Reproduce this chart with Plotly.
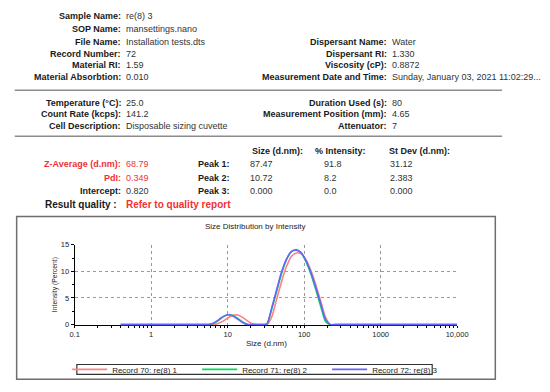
import plotly.graph_objects as go

W, H = 550, 392

# ---------------- data ----------------
sizes = [0.4, 0.4632, 0.5365, 0.6213, 0.7195, 0.8332, 0.9649, 1.117, 1.294, 1.499,
         1.736, 2.01, 2.328, 2.696, 3.122, 3.615, 4.187, 4.849, 5.615, 6.503,
         7.531, 8.721, 10.1, 11.7, 13.54, 15.69, 18.17, 21.04, 24.36, 28.21,
         32.67, 37.84, 43.82, 50.75, 58.77, 68.06, 78.82, 91.28, 105.7, 122.4,
         141.8, 164.2, 190.1, 220.2, 255.0, 295.3, 342.0, 396.1, 458.7, 531.2,
         615.1, 712.4, 825.0, 955.4, 1106, 1281, 1484, 1718, 1990, 2305,
         2669, 3091, 3580, 4145, 4801, 5560, 6439, 7456, 8635, 10000]

record70 = [0, 0, 0, 0, 0, 0, 0, 0, 0, 0,
            0, 0, 0, 0, 0, 0, 0, 0, 0, 0,
            0.2, 0.65, 1.25, 1.75, 1.8, 1.35, 0.7, 0.15, 0, 0,
            0, 1.5, 4.8, 8.1, 10.9, 12.8, 13.45, 13.3, 12.2, 10.2,
            7.5, 4.5, 1.4, 0, 0, 0, 0, 0, 0, 0,
            0, 0, 0, 0, 0, 0, 0, 0, 0, 0,
            0, 0, 0, 0, 0, 0, 0, 0, 0, 0]

record71 = [0, 0, 0, 0, 0, 0, 0, 0, 0, 0,
            0, 0, 0, 0, 0, 0, 0, 0, 0, 0.2,
            0.75, 1.45, 1.85, 1.7, 1.15, 0.5, 0.05, 0, 0, 0,
            0.2, 3.0, 6.3, 9.6, 12.2, 13.7, 14.1, 13.5, 11.8, 9.5,
            6.6, 3.5, 0.6, 0, 0, 0, 0, 0, 0, 0,
            0, 0, 0, 0, 0, 0, 0, 0, 0, 0,
            0, 0, 0, 0, 0, 0, 0, 0, 0, 0]

record72 = [0, 0, 0, 0, 0, 0, 0, 0, 0, 0,
            0, 0, 0, 0, 0, 0, 0, 0, 0, 0.25,
            0.85, 1.5, 1.85, 1.6, 1.05, 0.4, 0, 0, 0, 0,
            0.1, 3.2, 6.6, 9.9, 12.3, 13.7, 13.95, 13.5, 12.0, 9.8,
            7.0, 4.0, 1.0, 0, 0, 0, 0, 0, 0, 0,
            0, 0, 0, 0, 0, 0, 0, 0, 0, 0,
            0, 0, 0, 0, 0, 0, 0, 0, 0, 0]

series_names = ["Record 70: re(8) 1", "Record 71: re(8) 2", "Record 72: re(8) 3"]
series_values = [record70, record71, record72]
series_colors = ["#ff8282", "#00dc5a", "#6464ff"]

x_tickvals = [0.1, 1, 10, 100, 1000, 10000]
x_ticktext = ["0.1", "1", "10", "100", "1000", "10,000"]
y_tickvals = [0, 5, 10, 15]
x_minor = [m * d for d in [0.1, 1, 10, 100, 1000] for m in range(2, 10)]

chart_title = "Size Distribution by Intensity"
x_title = "Size (d.nm)"
y_title = "Intensity (Percent)"

block1_left = [("Sample Name:", "re(8) 3"), ("SOP Name:", "mansettings.nano"),
               ("File Name:", "Installation tests.dts"), ("Record Number:", "72"),
               ("Material RI:", "1.59"), ("Material Absorbtion:", "0.010")]
block1_right = [("Dispersant Name:", "Water"), ("Dispersant RI:", "1.330"),
                ("Viscosity (cP):", "0.8872"),
                ("Measurement Date and Time:", "Sunday, January 03, 2021 11:02:29...")]
block2_left = [("Temperature (°C):", "25.0"), ("Count Rate (kcps):", "141.2"),
               ("Cell Description:", "Disposable sizing cuvette")]
block2_right = [("Duration Used (s):", "80"), ("Measurement Position (mm):", "4.65"),
                ("Attenuator:", "7")]
result_labels = ["Z-Average (d.nm):", "PdI:", "Intercept:"]
result_values = ["68.79", "0.349", "0.820"]
result_red = [True, True, False]
peak_labels = ["Peak 1:", "Peak 2:", "Peak 3:"]
peak_headers = ["Size (d.nm):", "% Intensity:", "St Dev (d.nm):"]
peak_size = ["87.47", "10.72", "0.000"]
peak_intensity = ["91.8", "8.2", "0.0"]
peak_stdev = ["31.12", "2.383", "0.000"]
quality_label = "Result quality :"
quality_value = "Refer to quality report"

# ---------------- layout helpers ----------------
FONT = "Liberation Sans, Arial, sans-serif"
RED = "#f03232"


def px(x):
    return x / W


def py(y):
    return 1 - y / H


annotations = []


def text(s, x, y, anchor="left", size=9, color="#333333", bold=False, angle=0):
    annotations.append(dict(
        text=f"<b>{s}</b>" if bold else s, x=px(x), y=py(y),
        xref="paper", yref="paper", xanchor=anchor, yanchor="middle",
        showarrow=False, textangle=angle, borderpad=0,
        font=dict(family=FONT, size=size, color=color)))


rows1 = [12.5, 25.2, 38.5, 50.7, 62.6, 74.4]
for (lab, val), y in zip(block1_left, rows1):
    text(lab, 120, y, "right", bold=True, color="#1a1a1a")
    text(val, 124, y)
for (lab, val), y in zip(block1_right, rows1[2:]):
    text(lab, 394, y, "right", bold=True, color="#1a1a1a")
    text(val, 398, y)

rows2 = [101, 112.7, 124.3]
for (lab, val), y in zip(block2_left, rows2):
    text(lab, 120, y, "right", bold=True, color="#1a1a1a")
    text(val, 124, y)
for (lab, val), y in zip(block2_right, rows2):
    text(lab, 394, y, "right", bold=True, color="#1a1a1a")
    text(val, 398, y)

for hdr, x in zip(peak_headers, [253, 318, 394]):
    text(hdr, x, 150, "left", bold=True, color="#1a1a1a")

rows3 = [163.3, 177.3, 190.7]
for lab, val, red, pl, s, i, sd, y in zip(result_labels, result_values, result_red,
                                         peak_labels, peak_size, peak_intensity,
                                         peak_stdev, rows3):
    text(lab, 120, y, "right", bold=True, color=RED if red else "#1a1a1a")
    text(val, 124, y, color=RED if red else "#333333")
    text(pl, 233, y, "right", bold=True, color="#1a1a1a")
    text(s, 251, y)
    text(i, 328, y)
    text(sd, 396, y)

text(quality_label, 116, 204.3, "right", size=10, bold=True, color="#1a1a1a")
text(quality_value, 124, 204.3, "left", size=10, bold=True, color=RED)

# chart texts
text(chart_title, 258, 227, "center", size=8, color="#222222")
text(x_title, 269, 347, "center", size=8, color="#222222")
text(y_title, 51, 286.5, "center", size=6.8, color="#222222", angle=-90)

shapes = [
    dict(type="line", xref="paper", yref="paper", x0=px(10), x1=px(512), y0=py(88), y1=py(88),
         line=dict(color="#8c8c8c", width=1.5)),
    dict(type="line", xref="paper", yref="paper", x0=px(10), x1=px(512), y0=py(135), y1=py(135),
         line=dict(color="#8c8c8c", width=1.5)),
    dict(type="rect", xref="paper", yref="paper", x0=px(12), x1=px(505), y0=py(217), y1=py(383),
         line=dict(color="#6e6e6e", width=1.5), layer="below"),
    dict(type="rect", xref="paper", yref="paper", x0=px(74), x1=px(440), y0=py(368), y1=py(378),
         line=dict(color="#333333", width=1.2), layer="below"),
]

fig = go.Figure()
for name, vals, col in zip(series_names, series_values, series_colors):
    fig.add_trace(go.Scatter(x=sizes, y=vals, name=name, mode="lines",
                             line=dict(color=col, width=1.6, shape="spline", smoothing=0.6)))

y0 = -0.12
fig.update_layout(
    width=W, height=H, margin=dict(l=0, r=0, t=0, b=0),
    paper_bgcolor="white", plot_bgcolor="white",
    font=dict(family=FONT, size=8, color="#222222"),
    showlegend=True,
    legend=dict(orientation="h", x=px(64), y=py(373), xanchor="left", yanchor="middle",
                bgcolor="rgba(0,0,0,0)", borderwidth=0, entrywidth=80, entrywidthmode="pixels",
                font=dict(family=FONT, size=8, color="#222222"), itemwidth=35),
    xaxis=dict(type="log", range=[-1, 4], domain=[px(71.7), px(465.7)],
               tickvals=x_tickvals, ticktext=x_ticktext,
               showline=True, linecolor="black", linewidth=1, layer="below traces",
               ticks="outside", ticklen=2, tickcolor="black",
               showgrid=True, gridcolor="#9a9a9a", griddash="dot", gridwidth=1,
               zeroline=False, tickfont=dict(size=7.5, color="#222222"),
               minor=dict(tickvals=x_minor, ticks="outside", ticklen=2, tickcolor="black",
                          showgrid=False)),
    yaxis=dict(range=[y0, 15], domain=[py(327.3 + 0.12 * 5.44), py(245.7)],
               tickvals=y_tickvals, showline=True, linecolor="black", linewidth=1,
               layer="below traces", ticks="outside", ticklen=3, tickcolor="black",
               showgrid=True, gridcolor="#9a9a9a", griddash="dot", gridwidth=1,
               zeroline=False, tickfont=dict(size=7.5, color="#222222"),
               minor=dict(dtick=2.5, ticks="outside", ticklen=2, tickcolor="black",
                          showgrid=False)),
    annotations=annotations, shapes=shapes,
)

fig.write_html("out.html", config={"displayModeBar": False},
               post_script="document.body.style.margin='0';")
